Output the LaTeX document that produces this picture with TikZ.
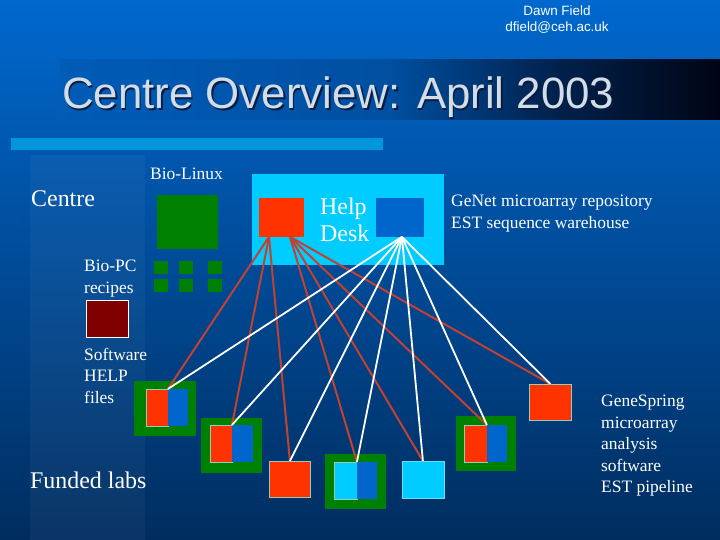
\documentclass[tikz,border=0pt]{standalone}
\usepackage{fontspec}
\setmainfont{Liberation Serif}
\newfontfamily\slidesans{Liberation Sans}
\usepackage{xcolor}
\usepackage{tikz}

\definecolor{bgtop}{RGB}{0,104,206}
\definecolor{bgbottom}{RGB}{0,45,95}
\definecolor{barblue}{RGB}{0,150,220}
\definecolor{titlegray}{RGB}{212,220,230}
\definecolor{titleshadow}{RGB}{0,30,70}
\definecolor{deskcyan}{RGB}{0,204,255}
\definecolor{deskred}{RGB}{255,51,0}
\definecolor{deskblue}{RGB}{0,102,204}
\definecolor{labgreen}{RGB}{0,128,0}
\definecolor{docred}{RGB}{128,0,0}
\definecolor{linkred}{RGB}{195,65,50}
\definecolor{tileedge}{RGB}{150,205,185}

\pgfdeclarehorizontalshading{titlefade}{100bp}{rgb(0bp)=(0,0.36,0.72); rgb(25bp)=(0,0.36,0.72); rgb(50bp)=(0,0.31,0.63); rgb(62.5bp)=(0,0.13,0.30); rgb(75bp)=(0,0.02,0.08); rgb(100bp)=(0,0.02,0.08)}

\tikzset{
  tile/.style={rectangle, anchor=north west, inner sep=0pt, outer sep=0pt, draw=tileedge, line width=0.7pt},
  half/.style={rectangle, anchor=north west, inner sep=0pt, outer sep=0pt},
  frame/.style={rectangle, anchor=north west, inner sep=0pt, outer sep=0pt, fill=labgreen},
  smalltext/.style={anchor=north west, inner sep=0pt, text=white, align=left, font=\fontsize{17.5}{21.5}\selectfont},
  bigtext/.style={anchor=north west, inner sep=0pt, text=white, align=left, font=\fontsize{24}{27}\selectfont},
  headtext/.style={anchor=base, inner sep=0pt, text=white, font=\slidesans\fontsize{13.5}{16}\selectfont},
  titletext/.style={anchor=base west, inner sep=0pt, font=\slidesans\fontsize{44}{48}\selectfont},
  redlink/.style={draw=linkred, line width=2pt},
  whitelink/.style={draw=white, line width=1.8pt}
}

\begin{document}
\begin{tikzpicture}[x=1bp,y=-1bp]
\useasboundingbox (0,0) rectangle (720,540);

\shade[top color=bgtop, bottom color=bgbottom] (0,0) rectangle (720,540);
\fill[white, opacity=0.04] (30,155) rectangle (145,540);

\node[headtext] (author) at (557,16) {Dawn Field};
\node[headtext] (mail) at (557,32) {dfield@ceh.ac.uk};

\shade[shading=titlefade] (60,60) rectangle (720,120);
\node[titletext, text=titleshadow] (titleshade) at (63.5,110.5) {Centre Overview: April 2003};
\node[titletext, text=titlegray] (title) at (62,109) {Centre Overview: April 2003};

\fill[barblue] (11,138) rectangle (383,150);

\node[bigtext] (centre) at (31,190) {Centre};
\node[smalltext] (biolinux) at (150,168) {Bio-Linux};
\node[half, fill=labgreen, minimum width=61, minimum height=54] (linux) at (157,195) {};
\foreach \px in {154,179,208}
  \foreach \py in {261,279}
    \node[half, fill=labgreen, minimum width=14, minimum height=13] at (\px,\py) {};

\node[smalltext] (biopc) at (84,260) {Bio-PC\\recipes};
\node[tile, draw=white, fill=docred, minimum width=43, minimum height=37] (helpdoc) at (86,300) {};
\node[smalltext] (software) at (84,348) {Software\\HELP\\files};
\node[bigtext] (funded) at (30,472) {Funded labs};

\node[half, fill=deskcyan, minimum width=193, minimum height=91] (desk) at (252,174) {};
\node[half, fill=deskred, minimum width=45, minimum height=39] (hdred) at (259,198) {};
\node[half, fill=deskblue, minimum width=48, minimum height=39] (hdblue) at (376,198) {};
\node[bigtext] (helpdesk) at (320,198) {Help\\Desk};
\node[smalltext] (genet) at (451,195) {GeNet microarray repository\\EST sequence warehouse};

\coordinate (hdl) at ([xshift=10bp]hdred.south west);
\coordinate (hdr) at ([xshift=31bp]hdred.south west);
\coordinate (hdw) at ([xshift=2bp]hdblue.south);

\node[frame, minimum width=62, minimum height=55] (lab1) at (134,381) {};
\node[tile, fill=deskred, minimum width=22, minimum height=37] (lab1a) at (146,389) {};
\node[half, fill=deskblue, minimum width=20, minimum height=37] (lab1b) at (168,389) {};

\node[frame, minimum width=61, minimum height=55] (lab2) at (201,418) {};
\node[tile, fill=deskred, minimum width=22, minimum height=37] (lab2a) at (210,425) {};
\node[half, fill=deskblue, minimum width=21, minimum height=37] (lab2b) at (232,425) {};

\node[tile, fill=deskred, minimum width=42, minimum height=36] (lab3) at (269,461) {};

\node[frame, minimum width=61, minimum height=55] (lab4) at (325,454) {};
\node[tile, fill=deskcyan, minimum width=23, minimum height=37] (lab4a) at (334,462) {};
\node[half, fill=deskblue, minimum width=20, minimum height=37] (lab4b) at (357,462) {};

\node[tile, draw=deskcyan!60!white, fill=deskcyan, minimum width=42, minimum height=37] (lab5) at (402,461) {};

\node[frame, minimum width=60, minimum height=55] (lab6) at (456,416) {};
\node[tile, fill=deskred, minimum width=23, minimum height=37] (lab6a) at (464,425) {};
\node[half, fill=deskblue, minimum width=20, minimum height=37] (lab6b) at (487,425) {};

\node[tile, fill=deskred, minimum width=43, minimum height=36] (lab7) at (529,384) {};

\node[smalltext] (genespring) at (601,395) {GeneSpring\\microarray\\analysis\\software\\EST pipeline};

\draw[redlink] (hdl) -- (lab1a.north east);
\draw[redlink] (hdl) -- (lab2a.north east);
\draw[redlink] (hdl) -- (lab3.north);
\draw[redlink] (hdr) -- (lab4a.north east);
\draw[redlink] (hdr) -- (lab5.north);
\draw[redlink] (hdr) -- (lab6a.north east);
\draw[redlink] (hdr) -- (lab7.north);

\foreach \target in {lab1a.north east, lab2a.north east, lab3.north, lab4a.north east, lab5.north, lab6a.north east, lab7.north}
  \draw[whitelink] (hdw) -- (\target);

\end{tikzpicture}
\end{document}
